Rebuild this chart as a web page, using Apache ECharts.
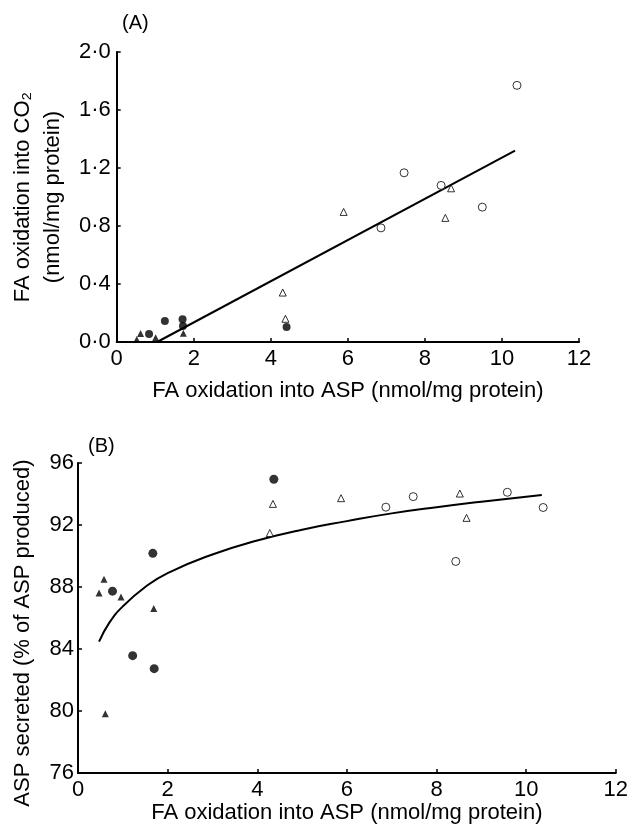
<!DOCTYPE html>
<html>
<head>
<meta charset="utf-8">
<script src="https://cdn.jsdelivr.net/npm/echarts@6/dist/echarts.min.js"></script>
<style>
  html, body { margin: 0; padding: 0; background: #fff; }
  #chart { width: 631px; height: 827px; }
</style>
</head>
<body>
<div id="chart"></div>
<script>
// panel A: CO2 vs ASP
var aFilledCircles = [[0.84, 0.055], [1.25, 0.145], [1.71, 0.157], [1.72, 0.11], [4.41, 0.103]];
var aFilledTriangles = [[0.52, 0.018], [0.62, 0.058], [1.01, 0.03], [1.73, 0.06]];
var aOpenCircles = [[6.86, 0.787], [7.46, 1.167], [8.42, 1.08], [9.49, 0.93], [10.39, 1.77]];
var aOpenTriangles = [[4.31, 0.341], [4.38, 0.16], [5.89, 0.897], [8.53, 0.856], [8.68, 1.06]];
var aFitLine = [[1.05, 0], [10.34, 1.32]];

// panel B: % secreted vs ASP
var bFilledCircles = [[0.77, 87.73], [1.22, 83.57], [1.67, 90.17], [1.70, 82.73], [4.37, 94.95]];
var bFilledTriangles = [[0.47, 87.62], [0.58, 88.5], [0.61, 79.82], [0.96, 87.36], [1.69, 86.61]];
var bOpenCircles = [[6.87, 93.15], [7.48, 93.83], [8.43, 89.65], [9.58, 94.11], [10.38, 93.13]];
var bOpenTriangles = [[4.28, 91.48], [4.35, 93.36], [5.87, 93.73], [8.52, 94.03], [8.67, 92.46]];
var bFitCurve = [[0.47, 84.47], [0.7, 85.7], [1.0, 86.75], [1.5, 88.0], [2.0, 88.9], [3.0, 90.1],
  [4.0, 91.0], [5.0, 91.7], [6.0, 92.25], [7.0, 92.75], [8.0, 93.15], [9.0, 93.5], [10.35, 93.94]];

var chart = echarts.init(document.getElementById("chart"));
var font = "Liberation Sans, Arial, sans-serif";

function xAxisCfg(gridIndex, gap) {
  return {
    gridIndex: gridIndex,
    type: "value",
    min: 0,
    max: 12,
    interval: 2,
    name: "FA oxidation into ASP (nmol/mg protein)",
    nameLocation: "middle",
    nameGap: gap,
    nameTextStyle: { color: "#000", fontSize: 22, fontFamily: font },
    axisLine: { lineStyle: { color: "#000", width: 2 } },
    axisTick: { inside: true, length: 4, lineStyle: { color: "#000", width: 1.5 } },
    axisLabel: { color: "#000", fontSize: 22, fontFamily: font, margin: 6 },
    splitLine: { show: false }
  };
}

function open(sym, size) {
  return { symbol: sym, symbolSize: size, itemStyle: { color: "#fff", borderColor: "#000", borderWidth: 1 } };
}
function filled(sym, size) {
  return { symbol: sym, symbolSize: size, itemStyle: { color: "#000" } };
}
function scatter(idx, data, style) {
  return Object.assign({ type: "scatter", xAxisIndex: idx, yAxisIndex: idx, data: data, z: 3 }, style);
}

var option = {
  backgroundColor: "#fff",
  animation: false,
  grid: [
    { left: 100, right: 52, top: 52, height: 290 },
    { left: 78, right: 13, top: 463, height: 310 }
  ],
  xAxis: [xAxisCfg(0, 38), xAxisCfg(1, 29)],
  yAxis: [
    {
      gridIndex: 0,
      type: "value",
      min: 0,
      max: 2,
      interval: 0.4,
      name: "FA oxidation into CO₂\n(nmol/mg protein)",
      nameLocation: "middle",
      nameGap: 36,
      nameTextStyle: { color: "#000", fontSize: 22, fontFamily: font, lineHeight: 30 },
      axisLine: { lineStyle: { color: "#000", width: 2 } },
      axisTick: { inside: true, length: 4, lineStyle: { color: "#000", width: 1.5 } },
      axisLabel: {
        color: "#000", fontSize: 22, fontFamily: font, margin: 6,
        formatter: function (v) { return v.toFixed(1).replace(".", "·"); }
      },
      splitLine: { show: false }
    },
    {
      gridIndex: 1,
      type: "value",
      min: 76,
      max: 96,
      interval: 4,
      name: "ASP secreted (% of ASP produced)",
      nameLocation: "middle",
      nameGap: 44,
      nameTextStyle: { color: "#000", fontSize: 22, fontFamily: font, padding: [0, 30, 0, 0] },
      axisLine: { lineStyle: { color: "#000", width: 2 } },
      axisTick: { inside: true, length: 4, lineStyle: { color: "#000", width: 1.5 } },
      axisLabel: { color: "#000", fontSize: 22, fontFamily: font, margin: 4 },
      splitLine: { show: false }
    }
  ],
  graphic: [
    { type: "text", left: 122, top: 13, style: { text: "(A)", fill: "#000", font: "20px " + font } },
    { type: "text", left: 88, top: 436, style: { text: "(B)", fill: "#000", font: "20px " + font } }
  ],
  series: [
    {
      type: "line", xAxisIndex: 0, yAxisIndex: 0, data: aFitLine,
      showSymbol: false, lineStyle: { color: "#000", width: 2 }, z: 2
    },
    scatter(0, aFilledCircles, filled("circle", 8)),
    scatter(0, aFilledTriangles, filled("triangle", 7)),
    scatter(0, aOpenCircles, open("circle", 8)),
    scatter(0, aOpenTriangles, open("triangle", 7)),
    {
      type: "line", xAxisIndex: 1, yAxisIndex: 1, data: bFitCurve, smooth: true,
      showSymbol: false, lineStyle: { color: "#000", width: 2 }, z: 2
    },
    scatter(1, bFilledCircles, filled("circle", 9)),
    scatter(1, bFilledTriangles, filled("triangle", 7)),
    scatter(1, bOpenCircles, open("circle", 8)),
    scatter(1, bOpenTriangles, open("triangle", 7))
  ]
};

chart.setOption(option);
</script>
</body>
</html>
